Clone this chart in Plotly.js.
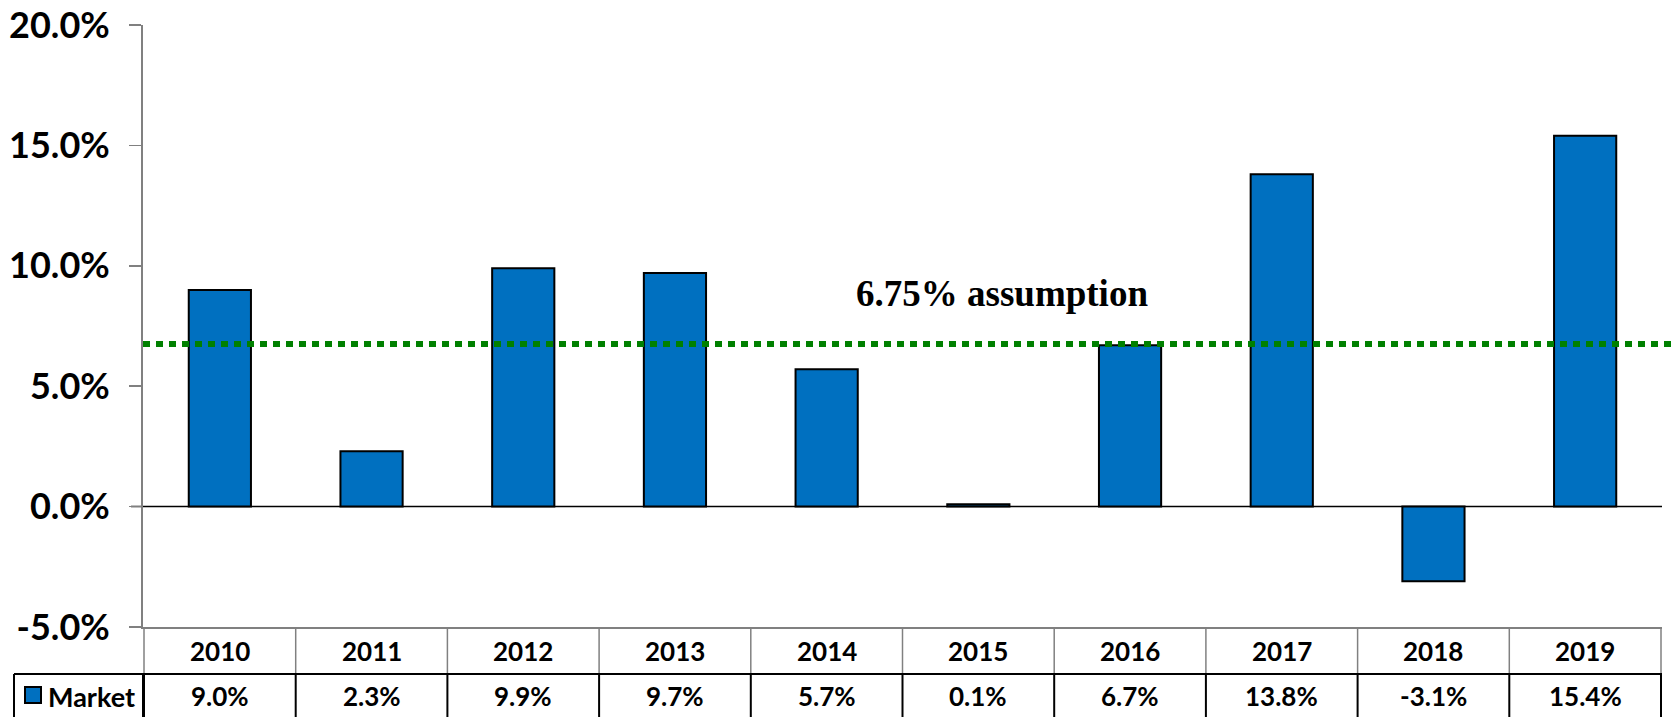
<!DOCTYPE html>
<html>
<head>
<meta charset="utf-8">
<script src="https://cdn.plot.ly/plotly-3.0.1.min.js"></script>
<style>
  html, body { margin: 0; padding: 0; background: #fff; }
  #chart { width: 1671px; height: 717px; }
</style>
</head>
<body>
<div id="chart"></div>
<script>
// annual returns, percent
const years = ["2010", "2011", "2012", "2013", "2014", "2015", "2016", "2017", "2018", "2019"];
const marketReturns = [9.0, 2.3, 9.9, 9.7, 5.7, 0.1, 6.7, 13.8, -3.1, 15.4];
const seriesName = "Market";
const assumption = 6.75;
const yTicks = [-5, 0, 5, 10, 15, 20];

const BLUE = "#0070C0";
const GRAY = "#808080";
const FONT = "Lato, 'Open Sans', sans-serif";

// pixel -> paper helpers for the table under the plot (plot area: y 25..627, x 143..1662)
const PLOT_H = 602, PLOT_W = 1519;
const py = Y => (627 - Y) / PLOT_H;
const px = X => (X - 143) / PLOT_W;

const headerY = py(651);
const valueY = py(696);
const rowLine = py(674);
const tableBottom = py(717);

const shapes = [];
const annotations = [];

// dotted assumption line
shapes.push({
  type: "line", xref: "paper", yref: "y",
  x0: 0, x1: 1.01, y0: assumption, y1: assumption,
  line: { color: "#008000", width: 6, dash: "7px,6px" }
});

// zero line (extends left like a tick)
shapes.push({
  type: "line", xref: "paper", yref: "y",
  x0: px(131), x1: 1, y0: 0, y1: 0,
  line: { color: "#000", width: 1.5 }, layer: "below"
});

// table grid
years.forEach((y, i) => {
  // header row verticals (gray)
  shapes.push({
    type: "line", xref: "x", yref: "paper",
    x0: i - 0.5, x1: i - 0.5, y0: 0, y1: rowLine,
    line: { color: GRAY, width: 1.5 }
  });
  // value row verticals (black)
  shapes.push({
    type: "line", xref: "x", yref: "paper",
    x0: i - 0.5, x1: i - 0.5, y0: rowLine, y1: tableBottom,
    line: { color: "#000", width: 2 }
  });
  annotations.push({
    xref: "x", yref: "paper", x: i, y: headerY, yanchor: "middle",
    text: "<b>" + y + "</b>", showarrow: false,
    font: { family: FONT, size: 26, color: "#000", weight: "bold" }
  });
  annotations.push({
    xref: "x", yref: "paper", x: i, y: valueY, yanchor: "middle",
    text: "<b>" + marketReturns[i].toFixed(1) + "%</b>", showarrow: false,
    font: { family: FONT, size: 26, color: "#000", weight: "bold" }
  });
});
const last = years.length - 0.5;
shapes.push({
  type: "line", xref: "x", yref: "paper",
  x0: last, x1: last, y0: 0, y1: rowLine,
  line: { color: GRAY, width: 1.5 }
});
shapes.push({
  type: "line", xref: "x", yref: "paper",
  x0: last, x1: last, y0: rowLine, y1: tableBottom,
  line: { color: "#000", width: 2 }
});
// value row top + left edge
shapes.push({
  type: "line", xref: "paper", yref: "paper",
  x0: px(14), x1: 1, y0: rowLine, y1: rowLine,
  line: { color: "#000", width: 2 }
});
shapes.push({
  type: "line", xref: "paper", yref: "paper",
  x0: px(14), x1: px(14), y0: rowLine, y1: tableBottom,
  line: { color: "#000", width: 2 }
});
shapes.push({
  type: "line", xref: "paper", yref: "paper",
  x0: 0, x1: 0, y0: rowLine, y1: tableBottom,
  line: { color: "#000", width: 2 }
});

// legend key in the table
shapes.push({
  type: "rect", xref: "paper", yref: "paper",
  x0: px(25), x1: px(41), y0: py(703), y1: py(687),
  fillcolor: BLUE, line: { color: "#000", width: 2 }
});
annotations.push({
  xref: "paper", yref: "paper", x: px(46), y: valueY,
  xanchor: "left", yanchor: "middle", text: "<b>" + seriesName + "</b>", showarrow: false,
  font: { family: FONT, size: 27, color: "#000", weight: "bold" }
});

// assumption label
annotations.push({
  xref: "paper", yref: "y", x: px(1002), y: 8.87, yanchor: "middle",
  text: "<b>" + assumption.toFixed(2) + "% assumption</b>", showarrow: false,
  font: { family: "'Liberation Serif', 'Times New Roman', serif", size: 37, color: "#000" }
});

Plotly.newPlot("chart", [{
  type: "bar",
  x: years,
  y: marketReturns,
  name: seriesName,
  marker: { color: BLUE, line: { color: "#000", width: 2 } },
  hoverinfo: "skip"
}], {
  width: 1671,
  height: 717,
  margin: { l: 143, r: 9, t: 25, b: 90 },
  paper_bgcolor: "#fff",
  plot_bgcolor: "#fff",
  showlegend: false,
  bargap: 0.59,
  xaxis: {
    type: "category",
    showticklabels: false,
    ticks: "",
    showgrid: false,
    showline: true,
    linecolor: GRAY,
    linewidth: 1.5,
    zeroline: false
  },
  yaxis: {
    range: [-5, 20],
    tickvals: yTicks,
    ticktext: yTicks.map(v => "<b>" + v.toFixed(1) + "%</b>"),
    ticks: "outside",
    ticklen: 12,
    tickcolor: GRAY,
    tickwidth: 1.5,
    ticklabelstandoff: 12,
    showline: true,
    linecolor: GRAY,
    linewidth: 2,
    showgrid: false,
    zeroline: false,
    tickfont: { family: FONT, size: 36, color: "#000", weight: "bold" }
  },
  shapes: shapes,
  annotations: annotations
}, { displayModeBar: false, staticPlot: true });
</script>
</body>
</html>
